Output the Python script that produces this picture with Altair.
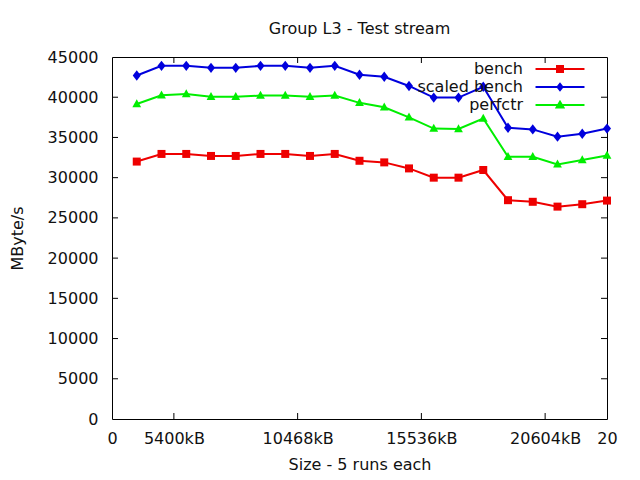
import altair as alt
import pandas as pd

sizes = list(range(1, 21))
bench = [32000, 32950, 32950, 32700, 32700, 32950, 32950, 32700, 32950, 32100,
         31900, 31150, 30000, 30000, 30950, 27200, 27000, 26400, 26700, 27150]
scaled_bench = [42700, 43900, 43900, 43650, 43650, 43900, 43900, 43650, 43900, 42800,
                42550, 41400, 39950, 39950, 41300, 36200, 36000, 35100, 35450, 36100]
perfctr = [39150, 40250, 40400, 40050, 40050, 40200, 40200, 40050, 40200, 39300,
           38750, 37500, 36100, 36050, 37350, 32600, 32600, 31650, 32200, 32750]

series_names = ["bench", "scaled bench", "perfctr"]
series_colors = ["#ee0000", "#0000dd", "#00ee00"]

x_tick_values = [0, 2.5, 7.5, 12.5, 17.5, 20]
x_tick_labels = ["0", "5400kB", "10468kB", "15536kB", "20604kB", "20"]
y_tick_values = [0, 5000, 10000, 15000, 20000, 25000, 30000, 35000, 40000, 45000]

W, H = 495, 362
FONT = "DejaVu Sans"
FS = 16

rows = []
for name, vals in zip(series_names, [bench, scaled_bench, perfctr]):
    for s, v in zip(sizes, vals):
        rows.append({"size": s, "value": v, "series": name})
df = pd.DataFrame(rows)

label_expr = "{" + ",".join(f"'{v}':'{l}'" for v, l in zip(x_tick_values, x_tick_labels)) + "}[datum.value]"

xscale = alt.Scale(domain=[0, 20], nice=False, zero=False)
yscale = alt.Scale(domain=[0, 45000], nice=False)
cscale = alt.Scale(domain=series_names, range=series_colors)

x_axis = alt.Axis(values=x_tick_values, labelExpr=label_expr, tickSize=0, domain=False, grid=False,
                  labelFont=FONT, labelFontSize=FS, labelColor="#111111", labelPadding=11,
                  title="Size - 5 runs each", titleFont=FONT, titleFontSize=FS, titleFontWeight="normal",
                  titlePadding=10, titleColor="#111111", labelFlush=False)
y_axis = alt.Axis(values=y_tick_values, tickSize=0, domain=False, grid=False, format="d",
                  labelFont=FONT, labelFontSize=FS, labelColor="#111111", labelPadding=14,
                  title="MByte/s", titleFont=FONT, titleFontSize=FS, titleFontWeight="normal",
                  titlePadding=22, titleColor="#111111", labelFlush=False)

base = alt.Chart(df)

lines = base.mark_line(strokeWidth=2).encode(
    x=alt.X("size:Q", scale=xscale, axis=x_axis),
    y=alt.Y("value:Q", scale=yscale, axis=y_axis),
    color=alt.Color("series:N", scale=cscale, legend=None),
    detail="series:N",
)

marker_paths = [
    "M-1,-1H1V1H-1Z",
    "M0,-1.3L1,0L0,1.3L-1,0Z",
    "M0,-1.2L1.1,0.8H-1.1Z",
]
points = base.mark_point(filled=True, opacity=1, size=64).encode(
    x="size:Q",
    y="value:Q",
    color=alt.Color("series:N", scale=cscale, legend=None),
    shape=alt.Shape("series:N", scale=alt.Scale(domain=series_names, range=marker_paths), legend=None),
)

# legend: line sample + marker, labels on the left (gnuplot style)
S = 16.0  # nominal symbol diameter; path units are S/2 px
def leg_path(marker):
    return "M-3.06,-0.125H3.06V0.125H-3.06Z " + marker
legend_paths = [
    leg_path("M-0.5,-0.5H0.5V0.5H-0.5Z"),
    leg_path("M0,-0.58L0.47,0L0,0.58L-0.47,0Z"),
    leg_path("M0,-0.65L0.65,0.45H-0.65Z"),
]
leg = alt.Legend(title=None, orient="none", legendX=440, legendY=4,
                 symbolSize=S * S, symbolOpacity=1, symbolStrokeWidth=0,
                 symbolFillColor={"expr": "scale('color', datum.value)"},
                 labelAlign="right", labelOffset={"expr": "-45"},
                 labelFont=FONT, labelFontSize=FS, labelColor="#111111",
                 rowPadding=2, labelLimit=300)
legend_layer = base.transform_filter("false").mark_point(filled=True, size=S * S).encode(
    x="size:Q",
    y="value:Q",
    color=alt.Color("series:N", scale=cscale, legend=None),
    shape=alt.Shape("series:N", scale=alt.Scale(domain=series_names, range=legend_paths), legend=leg),
)

# inward ticks (gnuplot-style, mirrored)
xt = pd.DataFrame({"t": x_tick_values[1:-1]})
yt = pd.DataFrame({"t": y_tick_values[1:-1]})
tick_style = dict(color="black", strokeWidth=1)
xt_bottom = alt.Chart(xt).mark_rule(**tick_style).encode(
    x=alt.X("t:Q", scale=xscale), y=alt.value(H), y2=alt.value(H - 6))
xt_top = alt.Chart(xt).mark_rule(**tick_style).encode(
    x=alt.X("t:Q", scale=xscale), y=alt.value(0), y2=alt.value(6))
yt_left = alt.Chart(yt).mark_rule(**tick_style).encode(
    y=alt.Y("t:Q", scale=yscale), x=alt.value(0), x2=alt.value(6))
yt_right = alt.Chart(yt).mark_rule(**tick_style).encode(
    y=alt.Y("t:Q", scale=yscale), x=alt.value(W), x2=alt.value(W - 6))

chart = alt.layer(
    xt_bottom, xt_top, yt_left, yt_right, lines, points, legend_layer
).resolve_scale(shape="independent").properties(
    width=W, height=H,
    title=alt.Title("Group L3 - Test stream", font=FONT, fontSize=FS, fontWeight="normal",
                    color="#111111", anchor="middle", offset=12),
    autosize=alt.AutoSizeParams(type="none"),
    padding={"left": 104, "top": 49, "right": 25, "bottom": 53},
    background="white",
).configure_view(stroke="black", strokeWidth=1)

chart.save("out.html", embed_options={"renderer": "svg", "actions": False})
